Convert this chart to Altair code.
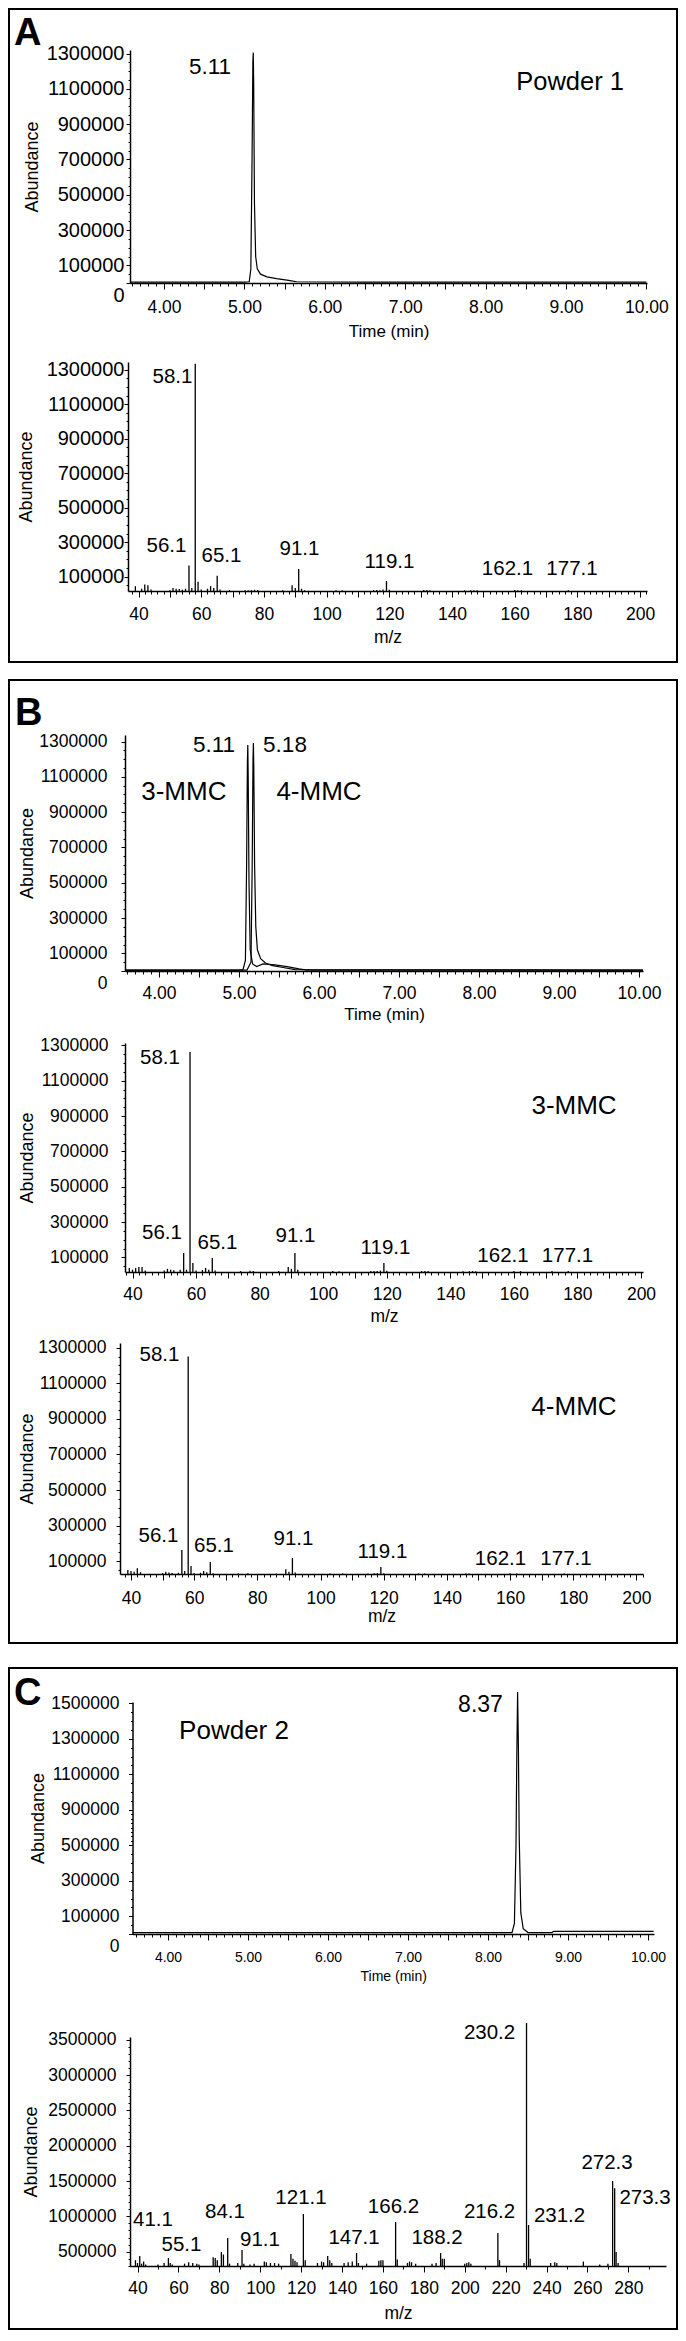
import altair as alt
import pandas as pd

FONT = "Liberation Sans"

# ---------------- Panel A : Powder 1 ----------------
a1_time = [3.58, 4.50, 5.00, 5.06, 5.08, 5.095, 5.105, 5.11, 5.115, 5.125, 5.14, 5.16, 5.20, 5.28, 5.40, 5.55, 5.65, 6.50, 9.00, 10.00]
a1_abund = [5000, 5000, 5000, 7000, 80000, 700000, 1250000, 1305000, 1150000, 450000, 150000, 80000, 50000, 35000, 25000, 15000, 7000, 5000, 5000, 5000]
a1_label_text = ["5.11"]
a1_label_time = [4.572]
a1_label_abund = [1224000]
a1_name_text = ["Powder 1"]
a1_name_time = [9.05]
a1_name_abund = [1139000]

a2_mz = [39, 41, 42, 43, 44, 50, 51, 52, 53, 54, 55, 56.1, 57, 58.1, 59, 60, 62, 63, 64, 65.1, 66, 69, 74, 75, 76, 77, 78, 86, 89, 90, 91.1, 92, 93, 103, 105, 115, 116, 117, 118, 119.1, 120, 131, 132, 133, 144, 146, 147, 148, 160, 161, 162.1, 177.1]
a2_abund = [45000, 30000, 55000, 50000, 25000, 22000, 35000, 30000, 28000, 25000, 30000, 165000, 35000, 1335000, 70000, 25000, 30000, 45000, 35000, 105000, 25000, 22000, 22000, 22000, 22000, 24000, 22000, 22000, 50000, 35000, 145000, 30000, 22000, 22000, 21000, 22000, 23000, 22000, 25000, 75000, 24000, 23000, 23000, 22000, 21000, 22000, 22000, 21000, 23000, 22000, 22000, 22000]
a2_label_text = ["58.1", "56.1", "65.1", "91.1", "119.1", "162.1", "177.1"]
a2_label_mz = [50.85, 48.93, 66.48, 91.36, 120.06, 157.7, 178.28]
a2_label_abund = [1258000, 278000, 220000, 261000, 185500, 145000, 145000]

# ---------------- Panel B : 3-MMC / 4-MMC ----------------
b1_3mmc_time = [3.58, 5.00, 5.05, 5.08, 5.095, 5.105, 5.11, 5.115, 5.125, 5.14, 5.17, 5.22, 5.30, 5.45, 5.60, 5.75, 5.85, 10.05]
b1_3mmc_abund = [5000, 5000, 8000, 60000, 600000, 1180000, 1280000, 1100000, 500000, 120000, 40000, 25000, 40000, 35000, 25000, 12000, 5000, 5000]
b1_4mmc_time = [3.58, 5.10, 5.15, 5.165, 5.175, 5.18, 5.185, 5.195, 5.21, 5.23, 5.27, 5.33, 5.42, 5.55, 5.70, 10.05]
b1_4mmc_abund = [5000, 5000, 50000, 600000, 1200000, 1292000, 1150000, 600000, 250000, 120000, 70000, 45000, 30000, 20000, 8000, 5000]
b1_label_text = ["5.11", "5.18"]
b1_label_time = [4.6875, 5.575]
b1_label_abund = [1280500, 1280500]
b1_name_text = ["3-MMC", "4-MMC"]
b1_name_time = [4.31, 6.0]
b1_name_abund = [1015900, 1015900]

b2_mz = [39, 40, 41, 42, 43, 44, 50, 51, 52, 53, 55, 56.1, 57, 58.1, 59, 60, 62, 63, 64, 65.1, 66, 74, 77, 78, 86, 89, 90, 91.1, 92, 103, 105, 115, 116, 117, 118, 119.1, 120, 131, 132, 133, 144, 146, 147, 148, 160, 162.1, 172, 177.1]
b2_abund = [40000, 30000, 40000, 45000, 45000, 25000, 25000, 35000, 30000, 27000, 30000, 125000, 30000, 1263000, 68000, 25000, 28000, 40000, 30000, 96000, 25000, 22000, 24000, 22000, 22000, 45000, 35000, 125000, 30000, 22000, 21000, 22000, 23000, 22000, 25000, 68000, 24000, 23000, 23000, 22000, 21000, 22000, 22000, 21000, 22000, 22000, 22000, 22000]
b2_label_text = ["58.1", "56.1", "65.1", "91.1", "119.1", "162.1", "177.1"]
b2_label_mz = [48.65, 49.28, 66.75, 91.29, 119.61, 156.58, 176.88]
b2_label_abund = [1229500, 238000, 181300, 221000, 153000, 107700, 107700]
b2_name_text = ["3-MMC"]
b2_name_mz = [178.93]
b2_name_abund = [957600]

b3_mz = [39, 40, 41, 42, 43, 50, 51, 52, 53, 55, 56.1, 57, 58.1, 59, 60, 62, 63, 64, 65.1, 66, 74, 77, 86, 89, 90, 91.1, 92, 103, 107, 115, 117, 118, 119.1, 120, 131, 133, 146, 147, 160, 162.1, 177.1]
b3_abund = [50000, 45000, 40000, 60000, 38000, 33000, 40000, 36000, 33000, 35000, 163000, 45000, 1250000, 73000, 33000, 35000, 45000, 38000, 96000, 32000, 31000, 32000, 31000, 55000, 40000, 118000, 36000, 31000, 31000, 31000, 32000, 33000, 68000, 32000, 31000, 31000, 31000, 31000, 32000, 31000, 31000]
b3_label_text = ["58.1", "56.1", "65.1", "91.1", "119.1", "162.1", "177.1"]
b3_label_mz = [49.02, 48.71, 66.27, 91.44, 119.61, 156.97, 177.7]
b3_label_abund = [1258400, 241600, 185400, 224700, 151700, 112400, 112400]
b3_name_text = ["4-MMC"]
b3_name_mz = [180.23]
b3_name_abund = [966300]

# ---------------- Panel C : Powder 2 ----------------
c1_time = [3.56, 7.80, 8.30, 8.33, 8.35, 8.36, 8.37, 8.38, 8.39, 8.41, 8.44, 8.50, 8.80, 8.82, 10.07]
c1_abund = [8000, 8000, 8000, 60000, 500000, 1200000, 1563000, 1250000, 600000, 120000, 30000, 8000, 8000, 15000, 15000]
c1_label_text = ["8.37"]
c1_label_time = [7.906]
c1_label_abund = [1490000]
c1_name_text = ["Powder 2"]
c1_name_time = [4.825]
c1_name_abund = [1343700]
c1_tick_labels = [0, 100000, 300000, 500000, 900000, 1100000, 1300000, 1500000]

c2_mz = [39, 40, 41.1, 42, 43, 44, 50, 53, 55.1, 56, 57, 63, 65, 67, 69, 70, 77, 78, 79, 81, 82, 84.1, 85, 89, 91.1, 92, 95, 97, 102, 103, 105, 107, 109, 115, 116, 117, 118, 121.1, 122, 128, 130, 131, 133, 134, 135, 141, 143, 145, 147.1, 148, 152, 158, 159, 160, 166.2, 167, 172, 173, 174, 176, 184, 186, 188.2, 189, 190, 200, 201, 202, 203, 216.2, 217, 229, 230.2, 231.2, 232, 242, 244, 245, 258, 266, 270, 272.3, 273.3, 274, 275]
c2_abund = [380000, 340000, 440000, 330000, 360000, 320000, 320000, 340000, 410000, 340000, 320000, 330000, 350000, 340000, 330000, 320000, 420000, 410000, 380000, 496000, 460000, 694000, 330000, 340000, 524000, 330000, 320000, 330000, 360000, 350000, 340000, 340000, 330000, 467000, 400000, 370000, 350000, 1034000, 380000, 340000, 360000, 350000, 440000, 380000, 340000, 340000, 350000, 360000, 480000, 340000, 330000, 370000, 380000, 380000, 920000, 390000, 340000, 360000, 350000, 330000, 330000, 340000, 480000, 400000, 400000, 330000, 340000, 350000, 330000, 765000, 380000, 340000, 3740000, 878000, 400000, 340000, 350000, 340000, 360000, 320000, 330000, 1500000, 1400000, 496000, 340000]
c2_label_text = ["41.1", "55.1", "84.1", "91.1", "121.1", "147.1", "166.2", "188.2", "216.2", "230.2", "231.2", "272.3", "273.3"]
c2_label_mz = [47.58, 61.52, 82.79, 99.9, 119.95, 145.87, 165.18, 186.45, 212.13, 212.13, 246.36, 269.58, 288.17]
c2_label_abund = [949000, 594900, 1062300, 665700, 1260600, 694000, 1133100, 694000, 1062300, 3597700, 1005600, 1756300, 1260600]


# ---------------- helpers ----------------
def frame(x, y, text):
    return pd.DataFrame({"x": x, "y": y, "text": text})


def axis_y(tick_vals, label_vals, fs, pad, tpad, xa):
    arr = "[" + ",".join(str(int(v)) for v in label_vals) + "]"
    is_lab = f"indexof({arr}, datum.value) >= 0"
    return alt.Axis(
        values=tick_vals,
        labelExpr=f"{is_lab} ? format(datum.value, 'd') : ''",
        tickSize={"condition": {"test": is_lab, "value": 4}, "value": 2},
        labelOffset={"condition": {"test": "datum.value === 0", "value": 12}, "value": 0},
        title="Abundance", titleFontSize=18, labelFontSize=fs,
        labelPadding=pad, titlePadding=tpad, offset=-xa,
        labelOverlap=False, labelFlush=False, labelBound=False,
    )


def axis_x(tick_vals, lab_test, fmt, major_test, title, fs, pad, tpad, tfs):
    return alt.Axis(
        values=tick_vals,
        labelExpr=f"({lab_test}) ? format(datum.value, '{fmt}') : ''",
        tickSize={"condition": {"test": major_test, "value": 6}, "value": 3},
        title=title, titleFontSize=tfs, labelFontSize=fs,
        labelPadding=pad, titlePadding=tpad,
        labelOverlap=False, labelFlush=False, orient="bottom",
    )


def box_layers(x1, x2, y1, y2, letter, lx, ly):
    d = pd.DataFrame({"k": [0]})
    rect = alt.Chart(d).mark_rect(filled=False, color="black", strokeWidth=2).encode(
        x=alt.value(x1), x2=alt.value(x2), y=alt.value(y1), y2=alt.value(y2))
    txt = alt.Chart(d).mark_text(font=FONT, fontSize=38, fontWeight="bold", align="left",
                                 baseline="alphabetic", color="black").encode(
        x=alt.value(lx), y=alt.value(ly), text=alt.value(letter))
    return [rect, txt]


def chart(kind, data, labels, names, xdom, xa, width, height, yscale, xaxis, yaxis,
          lab_fs, name_fs, extra=()):
    X = alt.X("x:Q", scale=alt.Scale(domain=xdom, range=[xa, width], nice=False, zero=False), axis=xaxis)
    Y = alt.Y("y:Q", scale=yscale, axis=yaxis)
    if kind == "chrom":
        main = alt.Chart(data).mark_line(color="black", strokeWidth=1.2).encode(x=X, y=Y, detail="trace:N")
    else:
        ymin = yscale.domain[0]
        main = alt.Chart(data).mark_rule(color="black", strokeWidth=1.3).encode(x=X, y=Y, y2=alt.datum(ymin))
    layers = [main,
              alt.Chart(labels).mark_text(font=FONT, fontSize=lab_fs, color="black").encode(x=X, y=Y, text="text:N")]
    if names is not None:
        layers.append(alt.Chart(names).mark_text(font=FONT, fontSize=name_fs, color="black").encode(
            x=X, y=Y, text="text:N"))
    layers.extend(extra)
    return alt.layer(*layers).properties(width=width, height=height)


def spacer(h):
    return alt.Chart(pd.DataFrame({"x": [0], "y": [0]})).mark_point(opacity=0).encode(
        x=alt.X("x:Q", axis=None), y=alt.Y("y:Q", axis=None)).properties(width=10, height=h)


def in_dom(vals, lo, hi):
    return [v for v in vals if lo - 1e-9 <= v <= hi + 1e-9]


chrom_ticks_all = [round(3.5 + 0.1 * i, 1) for i in range(67)]
chrom_lab = "abs(datum.value - round(datum.value)) < 0.001"
chrom_major = "abs(datum.value * 2 - round(datum.value * 2)) < 0.001"
ms_ticks_all = list(range(36, 204, 2))
y_lab_13 = [100000, 300000, 500000, 700000, 900000, 1100000, 1300000]

# ---------------- A1 ----------------
xd = [3.577, 10.007]
A1 = chart(
    "chrom",
    pd.DataFrame({"x": a1_time, "y": a1_abund, "trace": "powder1"}),
    frame(a1_label_time, a1_label_abund, a1_label_text),
    frame(a1_name_time, a1_name_abund, a1_name_text),
    xd, 10, 527, 233,
    alt.Scale(domain=[0, 1320000], nice=False, zero=False),
    axis_x(in_dom(chrom_ticks_all, *xd), chrom_lab, ".2f", chrom_major, "Time (min)", 17.5, 9, 8, 17),
    axis_y(list(range(0, 1320001, 50000)), [0] + y_lab_13, 20, 2, 5, 10),
    22.5, 25.5,
    box_layers(-111, 557, -41, 612, "A", -106, -5),
)

# ---------------- A2 ----------------
xd = [36.65, 202.2]
A2 = chart(
    "ms",
    pd.DataFrame({"x": a2_mz, "y": a2_abund}),
    frame(a2_label_mz, a2_label_abund, a2_label_text),
    None,
    xd, 8, 527, 229,
    alt.Scale(domain=[17000, 1345000], nice=False, zero=False),
    axis_x(in_dom(ms_ticks_all, *xd), "datum.value % 20 === 0", "d", "datum.value % 10 === 0", "m/z", 17.5, 8, 6, 17.5),
    axis_y(list(range(50000, 1345001, 50000)), y_lab_13, 20, 0, 11, 8),
    20.5, 25,
)

# ---------------- B1 ----------------
xd = [3.575, 10.05]
b1_df = pd.concat([
    pd.DataFrame({"x": b1_3mmc_time, "y": b1_3mmc_abund, "trace": "3-MMC"}),
    pd.DataFrame({"x": b1_4mmc_time, "y": b1_4mmc_abund, "trace": "4-MMC"}),
])
B1 = chart(
    "chrom",
    b1_df,
    frame(b1_label_time, b1_label_abund, b1_label_text),
    frame(b1_name_time, b1_name_abund, b1_name_text),
    xd, 5, 523, 236,
    alt.Scale(domain=[0, 1337000], nice=False, zero=False),
    axis_x(in_dom(chrom_ticks_all, *xd), chrom_lab, ".2f", chrom_major, "Time (min)", 17.5, 7.5, 4.5, 17),
    axis_y(list(range(0, 1337001, 50000)), [0] + y_lab_13, 17.5, 14, 2, 5),
    22.5, 26,
    box_layers(-111, 557, -55, 908, "B", -105, -10),
)

# ---------------- B2 ----------------
xd = [37.64, 200.63]
B2 = chart(
    "ms",
    pd.DataFrame({"x": b2_mz, "y": b2_abund}),
    frame(b2_label_mz, b2_label_abund, b2_label_text),
    frame(b2_name_mz, b2_name_abund, b2_name_text),
    xd, 5, 523, 229,
    alt.Scale(domain=[17000, 1314000], nice=False, zero=False),
    axis_x(in_dom(ms_ticks_all, *xd), "datum.value % 20 === 0", "d", "datum.value % 10 === 0", "m/z", 17.5, 7, 5, 17.5),
    axis_y(list(range(50000, 1314001, 50000)), y_lab_13, 17.5, 13, 3, 5),
    20.5, 26,
)

# ---------------- B3 ----------------
xd = [36.52, 202.08]
B3 = chart(
    "ms",
    pd.DataFrame({"x": b3_mz, "y": b3_abund}),
    frame(b3_label_mz, b3_label_abund, b3_label_text),
    frame(b3_name_mz, b3_name_abund, b3_name_text),
    xd, 0, 523, 231,
    alt.Scale(domain=[28000, 1326000], nice=False, zero=False),
    axis_x(in_dom(ms_ticks_all, *xd), "datum.value % 20 === 0", "d", "datum.value % 10 === 0", "m/z", 17.5, 9, 1, 17.5),
    axis_y(list(range(50000, 1326001, 50000)), y_lab_13, 17.5, 10, 1, 0),
    20.5, 26,
)

# ---------------- C1 (axis labels as printed, 700000 skipped) ----------------
xd = [3.556, 10.075]
H_C1 = 232
u = 35.5
c1_top = 900000 + (H_C1 - 3.5 * u) / u * 200000
C1 = chart(
    "chrom",
    pd.DataFrame({"x": c1_time, "y": c1_abund, "trace": "powder2"}),
    frame(c1_label_time, c1_label_abund, c1_label_text),
    frame(c1_name_time, c1_name_abund, c1_name_text),
    xd, 12.5, 534, H_C1,
    alt.Scale(domain=[0, 500000, 900000, c1_top], range=[H_C1, H_C1 - 2.5 * u, H_C1 - 3.5 * u, 0],
              nice=False, zero=False),
    axis_x(in_dom(chrom_ticks_all, *xd), chrom_lab, ".2f", chrom_major, "Time (min)", 14, 10, 5, 14),
    axis_y([v for v in range(0, int(c1_top) + 1, 50000)], c1_tick_labels, 17.5, 9.5, 3, 12.5),
    23, 26,
    box_layers(-111, 557, -34, 627, "C", -106, 3),
)

# ---------------- C2 ----------------
xd = [36.33, 298.4]
C2 = chart(
    "ms",
    pd.DataFrame({"x": c2_mz, "y": c2_abund}),
    frame(c2_label_mz, c2_label_abund, c2_label_text),
    None,
    xd, 10, 546, 229,
    alt.Scale(domain=[297000, 3541000], nice=False, zero=False),
    axis_x(in_dom(list(range(40, 300, 10)), *xd), "datum.value % 20 === 0", "d", "datum.value % 20 === 0", "m/z", 17.5, 7, 8, 17.5),
    axis_y(list(range(300000, 3541001, 100000)), [500000, 1000000, 1500000, 2000000, 2500000, 3000000, 3500000], 17.5, 10, 7, 10),
    20.5, 25,
)

chart_all = alt.vconcat(
    A1, spacer(79), A2, spacer(144), B1, spacer(72), B2, spacer(71), B3, spacer(128), C1, spacer(103), C2,
    spacing=0, bounds="flush",
).properties(padding=0).configure_view(stroke=None).configure_axis(
    labelFont=FONT, titleFont=FONT, titleFontWeight="normal", labelColor="black", titleColor="black",
    domainColor="black", tickColor="black", domainWidth=1.5, tickWidth=1, grid=False,
)

chart_all.save("out.html", embed_options={"renderer": "svg", "actions": False})
